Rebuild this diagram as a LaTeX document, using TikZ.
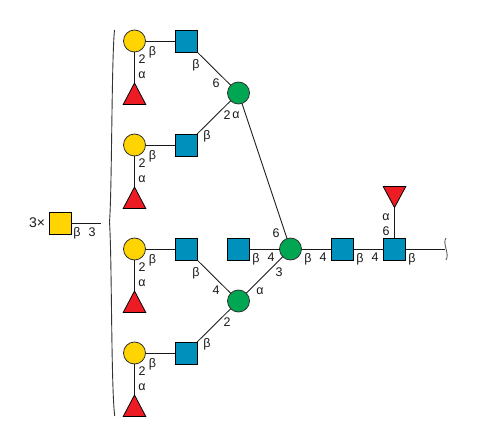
\documentclass[tikz,border=0pt]{standalone}
\usepackage{fontspec}
\setmainfont{Liberation Sans}
\definecolor{galc}{RGB}{255,212,0}
\definecolor{gnc}{RGB}{0,144,188}
\definecolor{manc}{RGB}{0,166,81}
\definecolor{fucc}{RGB}{237,28,36}
\tikzset{
 x=1pt,y=-1pt,
 bond/.style={draw=black!90,line width=0.85pt},
 gal/.style={circle,draw=black!80,line width=0.8pt,fill=galc,minimum size=22pt,inner sep=0pt,outer sep=0pt},
 manno/.style={circle,draw=black!80,line width=0.8pt,fill=manc,minimum size=22pt,inner sep=0pt,outer sep=0pt},
 glcnac/.style={rectangle,draw=black,line width=0.8pt,fill=gnc,minimum size=22pt,inner sep=0pt,outer sep=0pt},
 galnac/.style={rectangle,draw=black,line width=0.8pt,fill=galc,minimum size=22pt,inner sep=0pt,outer sep=0pt},
 fucose/.style={fill=fucc,draw=black,line width=0.8pt,line join=miter},
 lab/.style={font=\fontsize{12.5}{13}\selectfont,inner sep=0pt,text=black!90},
}
\begin{document}
\begin{tikzpicture}
\useasboundingbox (0,0) rectangle (487,446);
\coordinate (f1) at (134.5,84);
\coordinate (f2) at (134.5,188);
\coordinate (f3) at (134.5,292);
\coordinate (f4) at (134.5,396);
\coordinate (f5) at (394.5,207);
\coordinate (rootend) at (445,249);
\coordinate (capend) at (101,223);
% nodes
\node[gal] (g1) at (134.5,41) {};
\node[gal] (g2) at (134.5,145) {};
\node[gal] (g3) at (134.5,249) {};
\node[gal] (g4) at (134.5,353) {};
\node[glcnac] (n1) at (186,41) {};
\node[glcnac] (n2) at (186,145) {};
\node[glcnac] (n3) at (186,249) {};
\node[glcnac] (n4) at (186,353) {};
\node[manno] (m1) at (238.5,93) {};
\node[manno] (m2) at (238.5,301) {};
\node[glcnac] (bis) at (238,249) {};
\node[manno] (core) at (290.5,249) {};
\node[glcnac] (c1) at (342.5,249) {};
\node[glcnac] (c2) at (394.5,249) {};
\node[galnac] (cap) at (60,223) {};
% connectors
\draw[bond] (g1) -- (n1);
\draw[bond] (g2) -- (n2);
\draw[bond] (g3) -- (n3);
\draw[bond] (g4) -- (n4);
\draw[bond] (g1) -- (f1);
\draw[bond] (g2) -- (f2);
\draw[bond] (g3) -- (f3);
\draw[bond] (g4) -- (f4);
\draw[bond] (n1) -- (m1);
\draw[bond] (n2) -- (m1);
\draw[bond] (n3) -- (m2);
\draw[bond] (n4) -- (m2);
\draw[bond] (m1) -- (core);
\draw[bond] (m2) -- (core);
\draw[bond] (bis) -- (core);
\draw[bond] (core) -- (c1);
\draw[bond] (c1) -- (c2);
\draw[bond] (c2) -- (rootend);
\draw[bond] (c2) -- (f5);
\draw[bond] (cap) -- (capend);
% fucose triangles
\filldraw[fucose] (123.2,104.5) -- (134.5,83) -- (145.8,104.5) -- cycle;
\filldraw[fucose] (123.2,208.5) -- (134.5,187) -- (145.8,208.5) -- cycle;
\filldraw[fucose] (123.2,312.5) -- (134.5,291) -- (145.8,312.5) -- cycle;
\filldraw[fucose] (123.2,416.5) -- (134.5,395) -- (145.8,416.5) -- cycle;
\filldraw[fucose] (383.2,186.5) -- (394.5,207.5) -- (405.8,186.5) -- cycle;
% brace and root cap
\draw[black!80,line width=0.9pt] (114.5,30) .. controls (111.5,60) and (112,190) .. (109.5,222) .. controls (112,260) and (111,385) .. (114.7,416);
\draw[black!65,line width=0.9pt] (446,238) .. controls (442,243) and (450,254) .. (446,260);
% labels
\foreach \x/\y/\t in {
 142/59/2, 142/163/2, 142/267/2, 142/371/2,
 216/83/6, 227/115/2, 216/290/4, 227/322.5/2,
 276/233/6, 279/272/3, 271/257/4, 323/257/4, 375/257/4, 386/231/6, 92/232/3}
  {\node[lab] at (\x,\y) {\t};}
\foreach \x/\y in {
 152.5/52, 152.5/156, 152.5/260, 152.5/364,
 196/65.5, 207/136, 196/273, 207/344,
 256/259, 308/259, 360/259, 412/259, 77/233}
  {\node[lab] at (\x,\y) {β};}
\foreach \x/\y in {
 142/75, 142/179, 142/283, 142/387,
 236/115, 260/291, 386/217}
  {\node[lab] at (\x,\y) {α};}
\node[lab,font=\fontsize{14}{14}\selectfont] at (37,223) {3×};
\end{tikzpicture}
\end{document}
